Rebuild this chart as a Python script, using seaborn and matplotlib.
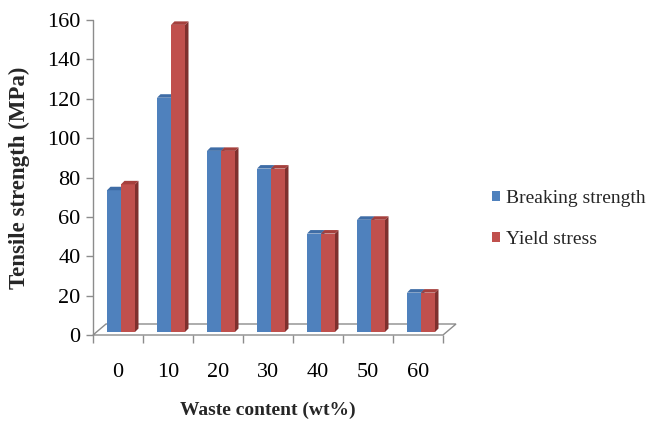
import matplotlib
matplotlib.use("Agg")
import matplotlib.pyplot as plt
from matplotlib.patches import Polygon, Patch
from matplotlib.ticker import FixedLocator
import seaborn as sns
import pandas as pd

# Data
waste_content = ["0", "10", "20", "30", "40", "50", "60"]
breaking_strength = [72, 119, 92, 83, 50, 57, 20]
yield_stress = [75, 156, 92, 83, 50, 57, 20]
series_names = ["Breaking strength", "Yield stress"]
y_ticks = [0, 20, 40, 60, 80, 100, 120, 140, 160]

df = pd.DataFrame({
    "Waste": waste_content * 2,
    "Series": [series_names[0]] * len(waste_content) + [series_names[1]] * len(waste_content),
    "Value": breaking_strength + yield_stress,
})

front_colors = ["#4F81BD", "#C0504D"]
side_colors = ["#38608F", "#7E302E"]
top_colors = ["#3F6DA6", "#A5403D"]
axis_gray = "#8C8C8C"

sns.set_theme(style="white")
plt.rcParams["font.family"] = ["Liberation Serif", "DejaVu Serif"]

W, H, DPI = 649, 423, 100
fig = plt.figure(figsize=(W / DPI, H / DPI), dpi=DPI)
ax_left, ax_bottom, ax_w, ax_h = 93, 335, 350, 315  # pixels
ax = fig.add_axes([ax_left / W, (H - ax_bottom) / H, ax_w / W, ax_h / H])

sns.barplot(data=df, x="Waste", y="Value", hue="Series", palette=front_colors,
            width=0.56, saturation=1, ax=ax, legend=False, errorbar=None)

ax.set_xlim(-0.5, len(waste_content) - 0.5)
ax.set_ylim(0, 160)
for s in ax.spines.values():
    s.set_visible(False)

# pixel -> data scale factors
sx = len(waste_content) / ax_w
sy = 160 / ax_h

# Bars sit a little behind the front plane
bar_shift = (3.0, 3.0)     # px
bar_depth = 3.5            # px
floor_depth = (13.0, 11.0) # px

n = len(waste_content)
bars = [p for p in ax.patches][: 2 * n]
for i, p in enumerate(bars):
    k = i // n
    x0 = p.get_x() + bar_shift[0] * sx
    w = p.get_width()
    h = p.get_height()
    y0 = bar_shift[1] * sy
    p.set_x(x0)
    p.set_y(y0)
    p.set_edgecolor("none")
    z = 3 + (i % n) * 0.01 + k * 0.1
    p.set_zorder(z)
    dx, dy = bar_depth * sx, bar_depth * sy
    x1 = x0 + w
    y1 = y0 + h
    side = Polygon([(x1, y0), (x1 + dx, y0 + dy), (x1 + dx, y1 + dy), (x1, y1)],
                   closed=True, facecolor=side_colors[k], edgecolor="none",
                   zorder=z, clip_on=False)
    top = Polygon([(x0, y1), (x1, y1), (x1 + dx, y1 + dy), (x0 + dx, y1 + dy)],
                  closed=True, facecolor=top_colors[k], edgecolor="none",
                  zorder=z, clip_on=False)
    ax.add_patch(side)
    ax.add_patch(top)
    p.set_clip_on(False)

# Floor outline
fx, fy = floor_depth[0] * sx, floor_depth[1] * sy
xa, xb = -0.5, n - 0.5
floor = Polygon([(xa, 0), (xb, 0), (xb + fx, fy), (xa + fx, fy)], closed=True,
                facecolor="white", edgecolor=axis_gray, linewidth=1.0,
                zorder=1, clip_on=False)
ax.add_patch(floor)

# Vertical value axis
ax.plot([xa, xa], [0, 160], color=axis_gray, lw=1.0, zorder=2, clip_on=False)

ax.set_yticks(y_ticks)
ax.set_yticklabels([str(v) for v in y_ticks])
ax.tick_params(axis="y", which="major", left=True, length=5, width=1,
               color=axis_gray, pad=4, labelsize=16, labelcolor="black")

ax.set_xticks(range(n))
ax.set_xticklabels(waste_content)
ax.xaxis.set_minor_locator(FixedLocator([i - 0.5 for i in range(n + 1)]))
ax.tick_params(axis="x", which="major", bottom=False, length=0, pad=20,
               labelsize=16, labelcolor="black")
ax.tick_params(axis="x", which="minor", bottom=True, length=6, width=1,
               color=axis_gray)

ax.set_xlabel("Waste content (wt%)", fontsize=14, fontweight="bold", va="center")
ax.set_ylabel("Tensile strength (MPa)", fontsize=16.5, fontweight="bold", va="center")
ax.xaxis.set_label_coords((268 - ax_left) / ax_w, (ax_bottom - 410) / ax_h)
ax.yaxis.set_label_coords((19 - ax_left) / ax_w, 0.5)

handles = [Patch(facecolor=c, edgecolor="none") for c in front_colors]
fig.legend(handles, series_names, loc="center left",
           bbox_to_anchor=(492 / W, 1 - 219 / H), frameon=False,
           fontsize=14, handlelength=0.4, handleheight=0.4, handletextpad=0.3,
           labelspacing=1.2, borderpad=0, borderaxespad=0)

fig.savefig("out.png", dpi=DPI)
